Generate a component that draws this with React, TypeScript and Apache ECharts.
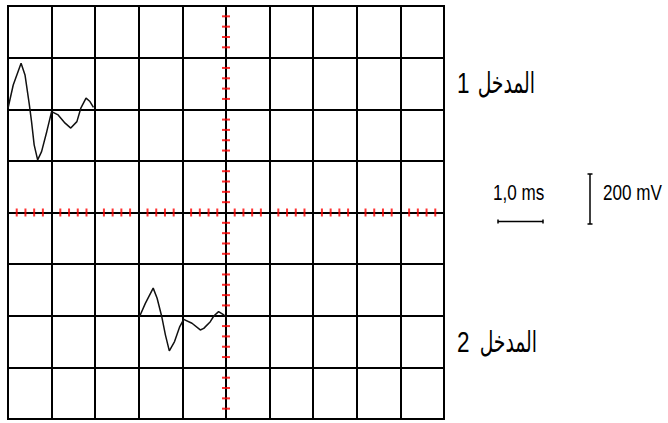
import React, { useEffect, useRef } from "react";
import * as echarts from "echarts";

// Time base: 1 division = 1.0 ms ; vertical: 1 division = 200 mV
const trace1Time = [0, 0.12, 0.3, 0.39, 0.49, 0.54, 0.6, 0.68, 0.77, 0.89, 1.0, 1.15, 1.31, 1.44, 1.58, 1.67, 1.79, 1.88, 1.96];
const trace1Mv = [404, 494, 578, 533, 417, 352, 262, 204, 236, 314, 391, 378, 346, 327, 352, 404, 443, 430, 407];
const trace2Time = [3.01, 3.15, 3.33, 3.42, 3.53, 3.61, 3.7, 3.82, 3.94, 4.03, 4.22, 4.41, 4.49, 4.64, 4.72, 4.83, 4.95, 5.02];
const trace2Mv = [-406, -352, -293, -332, -406, -474, -536, -500, -442, -414, -429, -455, -449, -423, -401, -384, -397, -406];

const input1Label = "المدخل";
const input1Number = "1";
const input2Label = "المدخل";
const input2Number = "2";
const timeScaleLabel = "1,0 ms";
const voltScaleLabel = "200 mV";

const xMin = 0;
const xMax = 10;
const yMin = -800;
const yMax = 800;
const xDiv = 1;
const yDiv = 200;
const minorFractions = [0.2, 0.4, 0.6, 0.8];

export default function App() {
  const ref = useRef<HTMLDivElement>(null);
  useEffect(() => {
    if (!ref.current) return;
    const chart = echarts.init(ref.current, undefined, { renderer: "svg" });

    const xTicks: number[][] = [];
    for (let d = xMin; d < xMax; d += xDiv) {
      for (const f of minorFractions) xTicks.push([d + f * xDiv, 0]);
    }
    const yTicks: number[][] = [];
    for (let d = yMin; d < yMax; d += yDiv) {
      for (const f of minorFractions) yTicks.push([(xMin + xMax) / 2, d + f * yDiv]);
    }

    const t1 = trace1Time.map((t, i) => [t, trace1Mv[i]]);
    const t2 = trace2Time.map((t, i) => [t, trace2Mv[i]]);

    const labelFont = { fontSize: 25, fontFamily: "Liberation Sans, Arial, sans-serif", fill: "#000" };
    const arabicFont = { fontSize: 25, fontFamily: "DejaVu Sans, sans-serif", fill: "#000" };
    const scaleFont = { fontSize: 18, fontFamily: "Liberation Sans, Arial, sans-serif", fill: "#000" };
    const barStyle = { stroke: "#000", lineWidth: 1.5 };

    chart.setOption({
      animation: false,
      backgroundColor: "#fff",
      grid: {
        left: 8,
        top: 6,
        width: 436,
        height: 413,
        show: true,
        borderColor: "#000",
        borderWidth: 2,
        backgroundColor: "#fff",
      },
      xAxis: {
        type: "value",
        min: xMin,
        max: xMax,
        interval: xDiv,
        axisLine: { show: false },
        axisTick: { show: false },
        axisLabel: { show: false },
        splitLine: { show: true, lineStyle: { color: "#000", width: 2 } },
      },
      yAxis: {
        type: "value",
        min: yMin,
        max: yMax,
        interval: yDiv,
        axisLine: { show: false },
        axisTick: { show: false },
        axisLabel: { show: false },
        splitLine: { show: true, lineStyle: { color: "#000", width: 2 } },
      },
      series: [
        {
          type: "scatter",
          data: xTicks,
          symbol: "rect",
          symbolSize: [2, 8],
          itemStyle: { color: "#ff0000" },
          silent: true,
          z: 3,
        },
        {
          type: "scatter",
          data: yTicks,
          symbol: "rect",
          symbolSize: [8, 2],
          itemStyle: { color: "#ff0000" },
          silent: true,
          z: 3,
        },
        {
          type: "line",
          data: t1,
          showSymbol: false,
          lineStyle: { color: "#111", width: 1.5 },
          z: 4,
        },
        {
          type: "line",
          data: t2,
          showSymbol: false,
          lineStyle: { color: "#111", width: 1.5 },
          z: 4,
        },
      ],
      graphic: [
        { type: "text", x: 457, y: 82.5, scaleX: 0.9, scaleY: 1.18, style: { ...labelFont, text: input1Number, align: "left", verticalAlign: "middle" } },
        { type: "text", x: 535, y: 82.5, scaleX: 0.75, scaleY: 1.18, style: { ...arabicFont, text: input1Label, align: "right", verticalAlign: "middle" } },
        { type: "text", x: 457, y: 342, scaleX: 0.9, scaleY: 1.18, style: { ...labelFont, text: input2Number, align: "left", verticalAlign: "middle" } },
        { type: "text", x: 537, y: 342, scaleX: 0.75, scaleY: 1.18, style: { ...arabicFont, text: input2Label, align: "right", verticalAlign: "middle" } },
        { type: "text", x: 493, y: 192.5, scaleX: 0.95, scaleY: 1.18, style: { ...scaleFont, text: timeScaleLabel, align: "left", verticalAlign: "middle" } },
        { type: "text", x: 603, y: 192.5, scaleX: 0.95, scaleY: 1.18, style: { ...scaleFont, text: voltScaleLabel, align: "left", verticalAlign: "middle" } },
        { type: "line", shape: { x1: 498, y1: 221.5, x2: 543, y2: 221.5 }, style: barStyle },
        { type: "line", shape: { x1: 498, y1: 219.5, x2: 498, y2: 223.5 }, style: barStyle },
        { type: "line", shape: { x1: 543, y1: 219.5, x2: 543, y2: 223.5 }, style: barStyle },
        { type: "line", shape: { x1: 590, y1: 174, x2: 590, y2: 224 }, style: barStyle },
        { type: "line", shape: { x1: 587.5, y1: 174, x2: 592.5, y2: 174 }, style: barStyle },
        { type: "line", shape: { x1: 587.5, y1: 224, x2: 592.5, y2: 224 }, style: barStyle },
      ],
    });
    return () => chart.dispose();
  }, []);
  return (
    <div
      ref={ref}
      style={{ position: "absolute", left: 0, top: 0, width: 668, height: 423, background: "#fff" }}
    />
  );
}
